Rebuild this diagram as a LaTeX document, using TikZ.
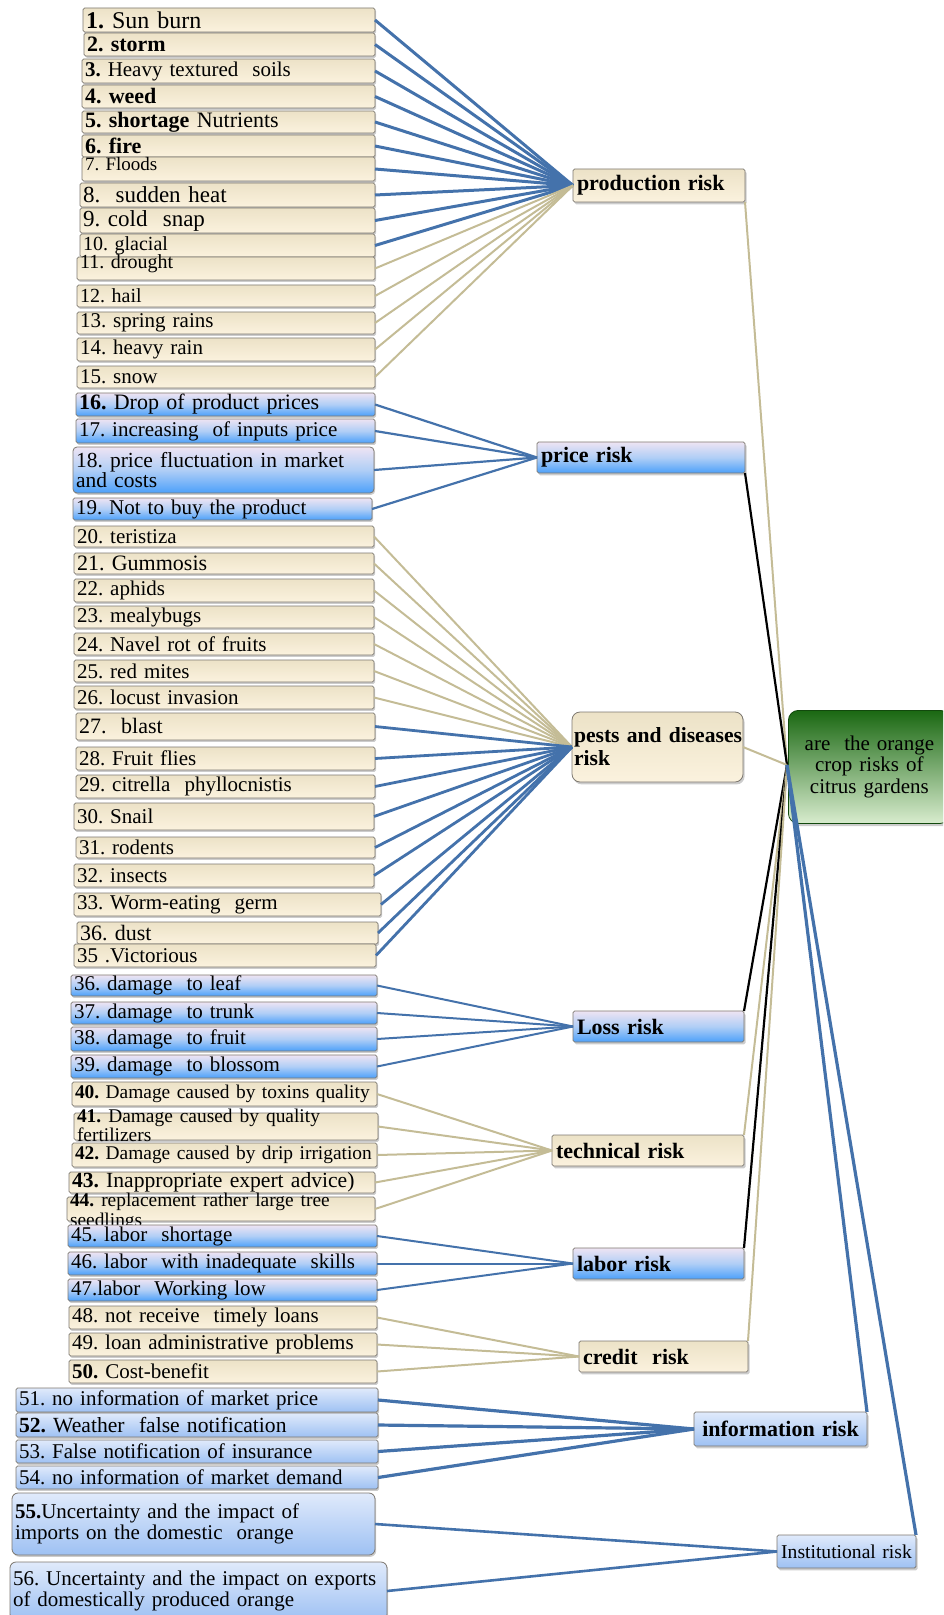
\documentclass[tikz,border=0pt]{standalone}
\usepackage{fontspec}
\setmainfont{Liberation Serif}
\usepackage{tikz}
\usetikzlibrary{shadows,calc}
\frenchspacing

\definecolor{tanhi}{RGB}{236,226,199}
\definecolor{tanlo}{RGB}{251,242,222}
\definecolor{lavhi}{RGB}{238,228,243}
\definecolor{bluemid}{RGB}{176,206,246}
\definecolor{bluelo}{RGB}{76,160,250}
\definecolor{skyhi}{RGB}{224,234,251}
\definecolor{skylo}{RGB}{158,193,243}
\definecolor{greenhi}{RGB}{26,104,18}
\definecolor{greenlo}{RGB}{216,236,206}
\definecolor{edge}{RGB}{125,120,112}
\definecolor{linkblue}{RGB}{68,114,171}
\definecolor{linktan}{RGB}{196,188,150}

\tikzset{
  fs/.style={font=\fontsize{#1}{#1}\selectfont},
  boxbase/.style={draw=edge, line width=0.4pt, inner xsep=1.5pt, inner ysep=0pt, outer sep=0pt,
    anchor=west, align=left, rounded corners=0.8pt, font=\fontsize{10.5}{10.5}\selectfont,
    drop shadow={shadow xshift=0.6pt, shadow yshift=-0.9pt, opacity=0.4}},
  tanleaf/.style={boxbase, top color=tanhi, bottom color=tanlo},
  blueleaf/.style={boxbase, top color=lavhi, bottom color=bluelo, middle color=bluemid},
  skyleaf/.style={boxbase, top color=skyhi, bottom color=skylo},
  riskbase/.style={draw=edge, line width=0.4pt, inner xsep=2pt, inner ysep=0pt, outer sep=0pt,
    anchor=north west, align=left, rounded corners=0.8pt, minimum height=15.5pt,
    font=\bfseries\fontsize{11}{11}\selectfont,
    drop shadow={shadow xshift=0.8pt, shadow yshift=-1.2pt, opacity=0.4}},
  tanrisk/.style={riskbase, top color=tanhi, bottom color=tanlo},
  bluerisk/.style={riskbase, top color=lavhi, bottom color=bluelo, middle color=bluemid},
  skyrisk/.style={riskbase, top color=skyhi, bottom color=skylo},
  mainbox/.style={draw=greenhi!70!black, line width=0.4pt, inner xsep=2pt, anchor=north west,
    align=center, rounded corners=5pt, top color=greenhi, bottom color=greenlo,
    font=\fontsize{10.5}{10.75}\selectfont,
    drop shadow={shadow xshift=1pt, shadow yshift=-1.4pt, opacity=0.4}},
  bluelink/.style={draw=linkblue, line width=1.2pt},
  tanlink/.style={draw=linktan, line width=1pt},
  blacklink/.style={draw=black, line width=1.1pt},
}

\begin{document}
\begin{tikzpicture}[x=0.5pt,y=-0.5pt]
\useasboundingbox (0,0) rectangle (943,1615);
\clip (0,0) rectangle (943,1615);

% production
\node[tanleaf, fs=12, text width=143pt, minimum height=12pt] (l1) at (83,20) {\textbf{1.} Sun burn};
\node[tanleaf, fs=11, text width=142.5pt, minimum height=11.5pt] (l2) at (84,44.5) {\textbf{2. storm}};
\node[tanleaf, text width=143.5pt, minimum height=12pt] (l3) at (82,71) {\textbf{3.} Heavy textured\ \ soils};
\node[tanleaf, fs=11, text width=143.5pt, minimum height=11.5pt] (l4) at (82,96.5) {\textbf{4. weed}};
\node[tanleaf, fs=11, text width=143.5pt, minimum height=11pt] (l5) at (82,122) {\textbf{5. shortage} Nutrients};
\node[tanleaf, fs=11, text width=143.5pt, minimum height=11pt] (l6) at (82,146) {\textbf{6. fire}};
\node[tanleaf, fs=9.5, text width=143.5pt, minimum height=12pt] (l7) at (82,169) {\smash{\raisebox{-1pt}{7. Floods}}};
\node[tanleaf, fs=11.5, text width=144.5pt, minimum height=12pt] (l8) at (80,195) {8.\ \ sudden heat};
\node[tanleaf, fs=11.5, text width=144.5pt, minimum height=12.5pt] (l9) at (80,220.5) {9. cold\ \ snap};
\node[tanleaf, fs=10, text width=144.5pt, minimum height=11.5pt] (l10) at (80,245.5) {10. glacial};
\node[tanleaf, fs=10, text width=146pt, minimum height=11.5pt] (l11) at (77,268.5) {\smash{11. drought}};
\node[tanleaf, fs=10, text width=146pt, minimum height=11pt] (l12) at (77,296) {12. hail};
\node[tanleaf, text width=146pt, minimum height=11pt] (l13) at (77,323) {13. spring rains};
\node[tanleaf, text width=146pt, minimum height=11.5pt] (l14) at (77,349.5) {14. heavy rain};
\node[tanleaf, text width=146pt, minimum height=11pt] (l15) at (77,377) {15. snow};

% price
\node[blueleaf, fs=11, text width=146.5pt, minimum height=11.5pt] (l16) at (76,404.5) {\textbf{16.} Drop of product prices};
\node[blueleaf, text width=146.5pt, minimum height=12pt] (l17) at (76,431) {17. increasing\ \ of inputs price};
\node[blueleaf, font=\fontsize{10.75}{10}\selectfont, rounded corners=2pt, text width=147.5pt, minimum height=23pt] (l18) at (73,470) {18. price fluctuation in market\\and costs};
\node[blueleaf, text width=146.5pt, minimum height=11pt] (l19) at (73,509) {19. Not to buy the product};

% pests and diseases
\node[tanleaf, text width=147pt, minimum height=10.5pt] (l20) at (74,536.5) {20. teristiza};
\node[tanleaf, fs=11, text width=147pt, minimum height=10.5pt] (l21) at (74,563.5) {21. Gummosis};
\node[tanleaf, text width=147pt, minimum height=11.5pt] (l22) at (74,590.5) {22. aphids};
\node[tanleaf, text width=147pt, minimum height=11pt] (l23) at (74,617) {23. mealybugs};
\node[tanleaf, text width=147pt, minimum height=11pt] (l24) at (74,644) {24. Navel rot of fruits};
\node[tanleaf, text width=147pt, minimum height=11pt] (l25) at (74,671) {25. red mites};
\node[tanleaf, text width=147pt, minimum height=11.5pt] (l26) at (74,697.5) {26. locust invasion};
\node[tanleaf, fs=11, text width=146.5pt, minimum height=13.5pt] (l27) at (76,726.5) {27.\ \ blast};
\node[tanleaf, text width=146.5pt, minimum height=11.5pt] (l28) at (76,758.5) {28. Fruit flies};
\node[tanleaf, text width=146.5pt, minimum height=11.5pt] (l29) at (76,786.5) {29. citrella\ \ phyllocnistis};
\node[tanleaf, text width=147pt, minimum height=13.5pt] (l30) at (74,816.5) {30. Snail};
\node[tanleaf, text width=146.5pt, minimum height=10.5pt] (l31) at (76,847.5) {31. rodents};
\node[tanleaf, text width=147pt, minimum height=11.5pt] (l32) at (74,875.5) {32. insects};
\node[tanleaf, text width=150.5pt, minimum height=11.5pt] (l33) at (74,904.5) {33. Worm-eating\ \ germ};
\node[tanleaf, fs=11, text width=147.5pt, minimum height=11pt] (l34) at (77,933) {36. dust};
\node[tanleaf, text width=148pt, minimum height=11.5pt] (l35) at (74,955.5) {35 .Victorious};

% loss
\node[blueleaf, text width=150pt, minimum height=10.5pt] (l36) at (71,985.5) {36. damage\ \ to leaf};
\node[blueleaf, text width=150pt, minimum height=11pt] (l37) at (71,1013) {37. damage\ \ to trunk};
\node[blueleaf, text width=150pt, minimum height=12pt] (l38) at (71,1039) {38. damage\ \ to fruit};
\node[blueleaf, text width=150pt, minimum height=11.5pt] (l39) at (71,1066.5) {39. damage\ \ to blossom};

% technical
\node[tanleaf, fs=9.7, text width=149.5pt, minimum height=12pt] (l40) at (72,1094) {\mbox{\textbf{40.} Damage caused by toxins quality}};
\node[tanleaf, text width=149pt, minimum height=13.5pt] (l41) at (74,1126.5) {\smash{\raisebox{2.25pt}{\parbox[t]{149pt}{\raggedright\fontsize{9.7}{8.5}\selectfont\textbf{41.} Damage caused by quality\\fertilizers}}}};
\node[tanleaf, fs=9.7, text width=149.5pt, minimum height=12pt] (l42) at (72,1155) {\mbox{\textbf{42.} Damage caused by drip irrigation}};
\node[tanleaf, fs=10.8, text width=150pt, minimum height=10.5pt] (l43) at (69,1182.5) {\mbox{\textbf{43.} Inappropriate expert advice)}};
\node[tanleaf, text width=151pt, minimum height=12pt] (l44) at (67,1209) {\smash{\raisebox{1.5pt}{\parbox[t]{151pt}{\raggedright\fontsize{9.7}{10}\selectfont\textbf{44.} replacement rather large tree\\seedlings}}}};

% labor
\node[blueleaf, text width=151.5pt, minimum height=11pt] (l45) at (68,1236) {45. labor\ \ shortage};
\node[blueleaf, text width=151.5pt, minimum height=11.5pt] (l46) at (68,1263.5) {46. labor\ \ with inadequate\ \ skills};
\node[blueleaf, text width=151.5pt, minimum height=11pt] (l47) at (68,1290) {47.labor\ \ Working low};

% credit
\node[tanleaf, text width=151pt, minimum height=11.5pt] (l48) at (69,1317.5) {48. not receive\ \ timely loans};
\node[tanleaf, text width=151pt, minimum height=11.5pt] (l49) at (69,1344.5) {49. loan administrative problems};
\node[tanleaf, text width=151pt, minimum height=11.5pt] (l50) at (69,1371.5) {\textbf{50.} Cost-benefit};

% information and institutional
\node[skyleaf, text width=178pt, minimum height=12pt] (l51) at (16,1400) {51. no information of market price};
\node[skyleaf, fs=10.8, text width=178pt, minimum height=12pt] (l52) at (16,1425) {\textbf{52.} Weather\ \ false notification};
\node[skyleaf, text width=178pt, minimum height=11.5pt] (l53) at (16,1451.5) {53. False notification of insurance};
\node[skyleaf, text width=178pt, minimum height=11.5pt] (l54) at (16,1477.5) {54. no information of market demand};
\node[skyleaf, rounded corners=3pt, text width=178.5pt, minimum height=31pt] (l55) at (12,1524) {\textbf{55.}Uncertainty and the impact of\\imports on the domestic\ \ orange};
\node[skyleaf, rounded corners=3pt, text width=185.5pt, minimum height=29pt] (l56) at (10,1591) {56. Uncertainty and the impact on exports\\of domestically produced orange};

% risks
\node[tanrisk, text width=82pt, minimum height=16.5pt] (prod) at (573,169) {production risk};
\node[bluerisk, text width=100pt] (price) at (537,442) {price risk};
\node[tanrisk, rounded corners=4pt, inner xsep=1pt, text width=83.5pt, minimum height=35pt, font=\bfseries\fontsize{10.8}{11.5}\selectfont] (pests) at (572,712) {\mbox{pests and diseases}\\risk};
\node[bluerisk, text width=81.5pt] (loss) at (573,1011) {Loss risk};
\node[tanrisk, text width=92pt] (tech) at (552,1135) {technical risk};
\node[bluerisk, text width=81.5pt] (labor) at (573,1248) {labor risk};
\node[tanrisk, text width=80.5pt] (credit) at (579,1341) {credit\ \ risk};
\node[skyrisk, align=center, text width=82.5pt, minimum height=17pt] (info) at (694,1412) {information risk};
\node[skyrisk, align=center, inner xsep=1pt, text width=67.5pt, minimum height=16.5pt, font=\fontsize{9.8}{9.8}\selectfont] (inst) at (777,1535) {\mbox{Institutional risk}};

\node[mainbox, text width=77pt, minimum height=56.5pt] (main) at (788,710) {are\ \ the orange\\crop risks of\\citrus gardens};
\coordinate (hub) at (787,765);

\foreach \i in {1,...,10} \draw[bluelink, line width=1.5pt] (l\i.east) -- (prod.west);
\foreach \i in {11,...,15} \draw[tanlink] (l\i.east) -- (prod.west);
\foreach \i in {16,...,19} \draw[bluelink, line width=1.1pt] (l\i.east) -- (price.west);
\foreach \i in {20,...,26} \draw[tanlink] (l\i.east) -- (pests.west);
\foreach \i in {27,...,35} \draw[bluelink, line width=1.4pt] (l\i.east) -- (pests.west);
\foreach \i in {36,...,39} \draw[bluelink, line width=1pt] (l\i.east) -- (loss.west);
\foreach \i in {40,...,44} \draw[tanlink] (l\i.east) -- (tech.west);
\foreach \i in {45,...,47} \draw[bluelink, line width=1pt] (l\i.east) -- (labor.west);
\foreach \i in {48,...,50} \draw[tanlink] (l\i.east) -- (credit.west);
\foreach \i in {51,...,54} \draw[bluelink, line width=1.6pt] (l\i.east) -- (info.west);
\foreach \i in {55,56} \draw[bluelink, line width=1.3pt] (l\i.east) -- (inst.west);

\draw[tanlink] (prod.south east) -- (hub);
\draw[blacklink] (price.south east) -- (hub);
\draw[tanlink] (pests.east) -- (hub);
\draw[blacklink] (loss.north east) -- (hub);
\draw[tanlink] (tech.north east) -- (hub);
\draw[blacklink] (labor.north east) -- (hub);
\draw[tanlink] (credit.north east) -- (hub);
\draw[bluelink, line width=1.6pt] (info.north east) -- (hub);
\draw[bluelink, line width=1.6pt] (inst.north east) -- (hub);
\end{tikzpicture}
\end{document}
